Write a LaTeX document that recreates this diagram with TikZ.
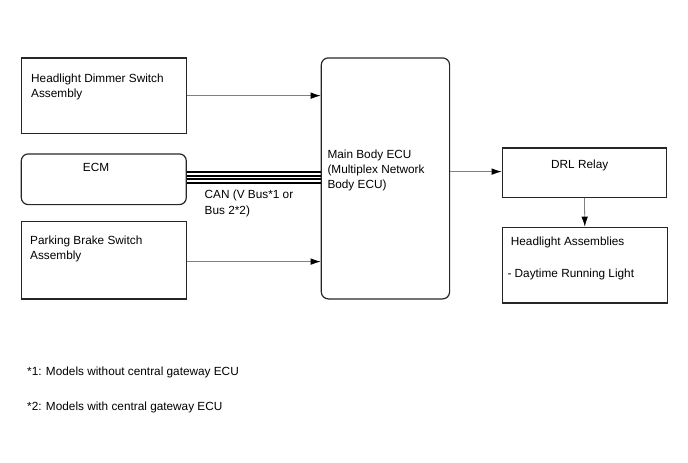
\documentclass[tikz,border=0pt]{standalone}
\usepackage{fontspec}
\setmainfont{Liberation Sans}
\usetikzlibrary{arrows.meta,positioning}

\begin{document}
\begin{tikzpicture}[
    x=1pt, y=-1pt,
    box/.style={rectangle, draw=black!85, line width=1.2pt, anchor=north west, inner sep=0pt},
    rbox/.style={box, rounded corners=7pt},
    txt/.style={inner sep=0pt, align=left, font=\fontsize{11.8}{15}\selectfont},
    arrow/.style={-{Latex[length=10pt,width=6.5pt,color=black]}, draw=black!50, line width=0.8pt},
    can/.style={draw=black, line width=1.7pt}
]
\useasboundingbox (0,0) rectangle (688,463);

% boxes
\node[box, minimum width=165pt, minimum height=75.5pt] (dimmer) at (20.7,57.3) {};
\node[rbox, minimum width=165pt, minimum height=50.7pt] (ecm) at (20.7,153.3) {};
\node[box, minimum width=165pt, minimum height=77.6pt] (parking) at (20.7,220.7) {};
\node[rbox, minimum width=128.3pt, minimum height=241pt] (main) at (320.7,57.3) {};
\node[box, minimum width=164.3pt, minimum height=49.4pt] (drl) at (501.7,147.3) {};
\node[box, minimum width=165pt, minimum height=75.6pt] (lamps) at (501.7,226.7) {};

% texts
\node[txt, below right=16pt and 10.3pt of dimmer.north west] (dimmertxt) {Headlight Dimmer Switch\\Assembly};
\node[txt, below right=10pt and 62pt of ecm.north west] (ecmtxt) {ECM};
\node[txt, below right=15.3pt and 9.3pt of parking.north west] (parkingtxt) {Parking Brake Switch\\Assembly};
\node[txt, below right=92.7pt and 6.6pt of main.north west] (maintxt) {Main Body ECU\\(Multiplex Network\\Body ECU)};
\node[txt, below right=12pt and 49.3pt of drl.north west] (drltxt) {DRL Relay};
\node[txt, below right=10pt and 9pt of lamps.north west] (lampstxt) {Headlight Assemblies};
\node[txt, below right=41.6pt and 5.6pt of lamps.north west] (drltxt2) {- Daytime Running Light};
\node[txt, below right=10.7pt and 17.6pt of ecm.east] (cantxt) {CAN (V Bus*1 or\\[0.7pt]Bus 2*2)};

% notes
\node[txt, anchor=north west] (note1) at (27,366.7) {*1: Models without central gateway ECU};
\node[txt, anchor=north west] (note2) at (27,402) {*2: Models with central gateway ECU};

% connections
\draw[arrow] (dimmer.east) -- (dimmer.east -| main.west);
\draw[arrow] ([yshift=-1.5pt]parking.east) -- ([yshift=-1.5pt]parking.east -| main.west);
\draw[arrow] ([yshift=1pt]drl.west -| main.east) -- ([yshift=1pt]drl.west);
\draw[arrow] (drl.south) -- (lamps.north);
\foreach \dy in {7,3.5,0,-3.5}
    \draw[can] ([yshift=\dy]ecm.east) -- ([yshift=\dy]ecm.east -| main.west);
\end{tikzpicture}
\end{document}
